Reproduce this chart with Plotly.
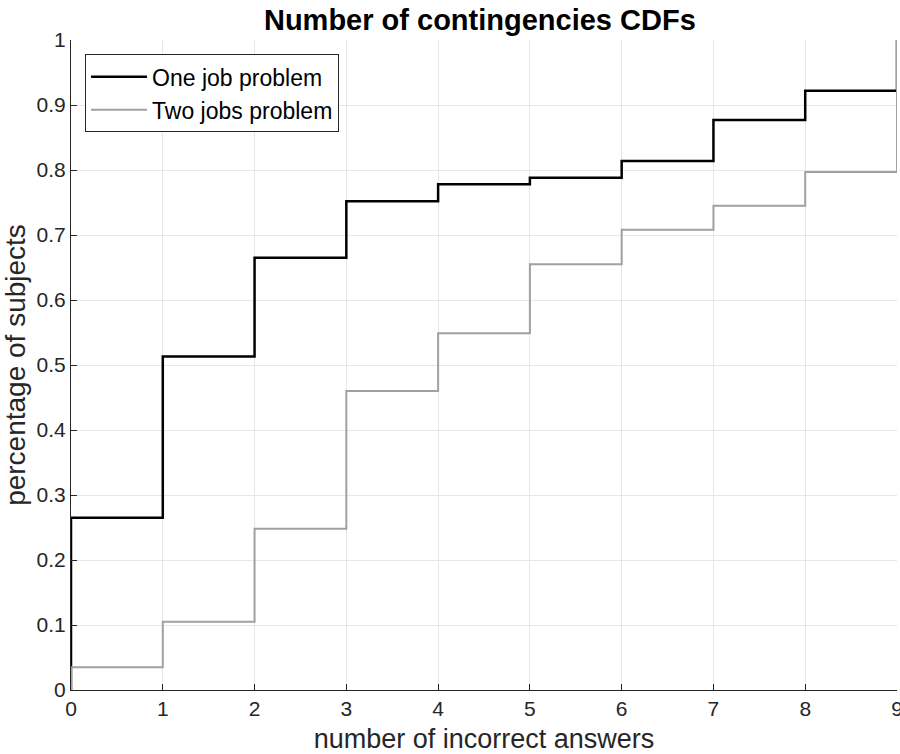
import plotly.graph_objects as go

# Step positions (x) and CDF levels
x_steps = [0, 0, 1, 2, 3, 4, 5, 6, 7, 8, 9]
one_job = [0, 0.265, 0.513, 0.665, 0.752, 0.778, 0.788, 0.814, 0.877, 0.922, 1.0]
two_jobs = [0, 0.035, 0.105, 0.248, 0.460, 0.549, 0.655, 0.708, 0.745, 0.797, 1.0]
x_ticks = [0, 1, 2, 3, 4, 5, 6, 7, 8, 9]
y_ticks = [0, 0.1, 0.2, 0.3, 0.4, 0.5, 0.6, 0.7, 0.8, 0.9, 1]
y_tick_labels = ["0", "0.1", "0.2", "0.3", "0.4", "0.5", "0.6", "0.7", "0.8", "0.9", "1"]

font_family = "Liberation Sans, Arial, Helvetica, sans-serif"
axis_col = "#262626"

fig = go.Figure()
fig.add_trace(go.Scatter(x=x_steps, y=one_job, mode="lines", line_shape="hv",
                         line=dict(color="#000000", width=2.5), name="One job problem"))
fig.add_trace(go.Scatter(x=x_steps, y=two_jobs, mode="lines", line_shape="hv",
                         line=dict(color="#a0a0a0", width=2), name="Two jobs problem"))

fig.update_layout(
    width=900, height=754,
    margin=dict(l=71, r=3, t=40, b=64),
    paper_bgcolor="white", plot_bgcolor="white",
    font=dict(family=font_family, color=axis_col, size=18),
    title=dict(text="<b>Number of contingencies CDFs</b>", x=0.495, xref="paper", xanchor="center",
               y=0.974, yanchor="middle", font=dict(size=29, color="#000000")),
    legend=dict(x=0.017, y=0.978, xanchor="left", yanchor="top",
                bgcolor="white", bordercolor=axis_col, borderwidth=1,
                font=dict(size=23, color="#000000"), itemwidth=56,
                tracegroupgap=0),
    showlegend=True,
)
fig.update_xaxes(range=[0, 9], tickvals=x_ticks, ticks="inside", ticklen=6,
                 tickcolor=axis_col, showline=True, linecolor=axis_col, linewidth=1,
                 showgrid=True, gridcolor="#e6e6e6", gridwidth=1, zeroline=False,
                 automargin=False, ticklabeloverflow="allow",
                 tickfont=dict(size=21, color=axis_col),
                 title=dict(text="number of incorrect answers", font=dict(size=27, color=axis_col), standoff=9))
fig.update_yaxes(range=[0, 1], tickvals=y_ticks, ticktext=y_tick_labels, ticks="inside", ticklen=6,
                 tickcolor=axis_col, showline=True, linecolor=axis_col, linewidth=1,
                 showgrid=True, gridcolor="#e6e6e6", gridwidth=1, zeroline=False,
                 automargin=False,
                 tickfont=dict(size=21, color=axis_col),
                 title=dict(text="percentage of subjects", font=dict(size=28, color=axis_col), standoff=2))

fig.write_html("out.html", config={"displayModeBar": False},
               post_script="document.body.style.margin='0';document.body.style.padding='0';")
